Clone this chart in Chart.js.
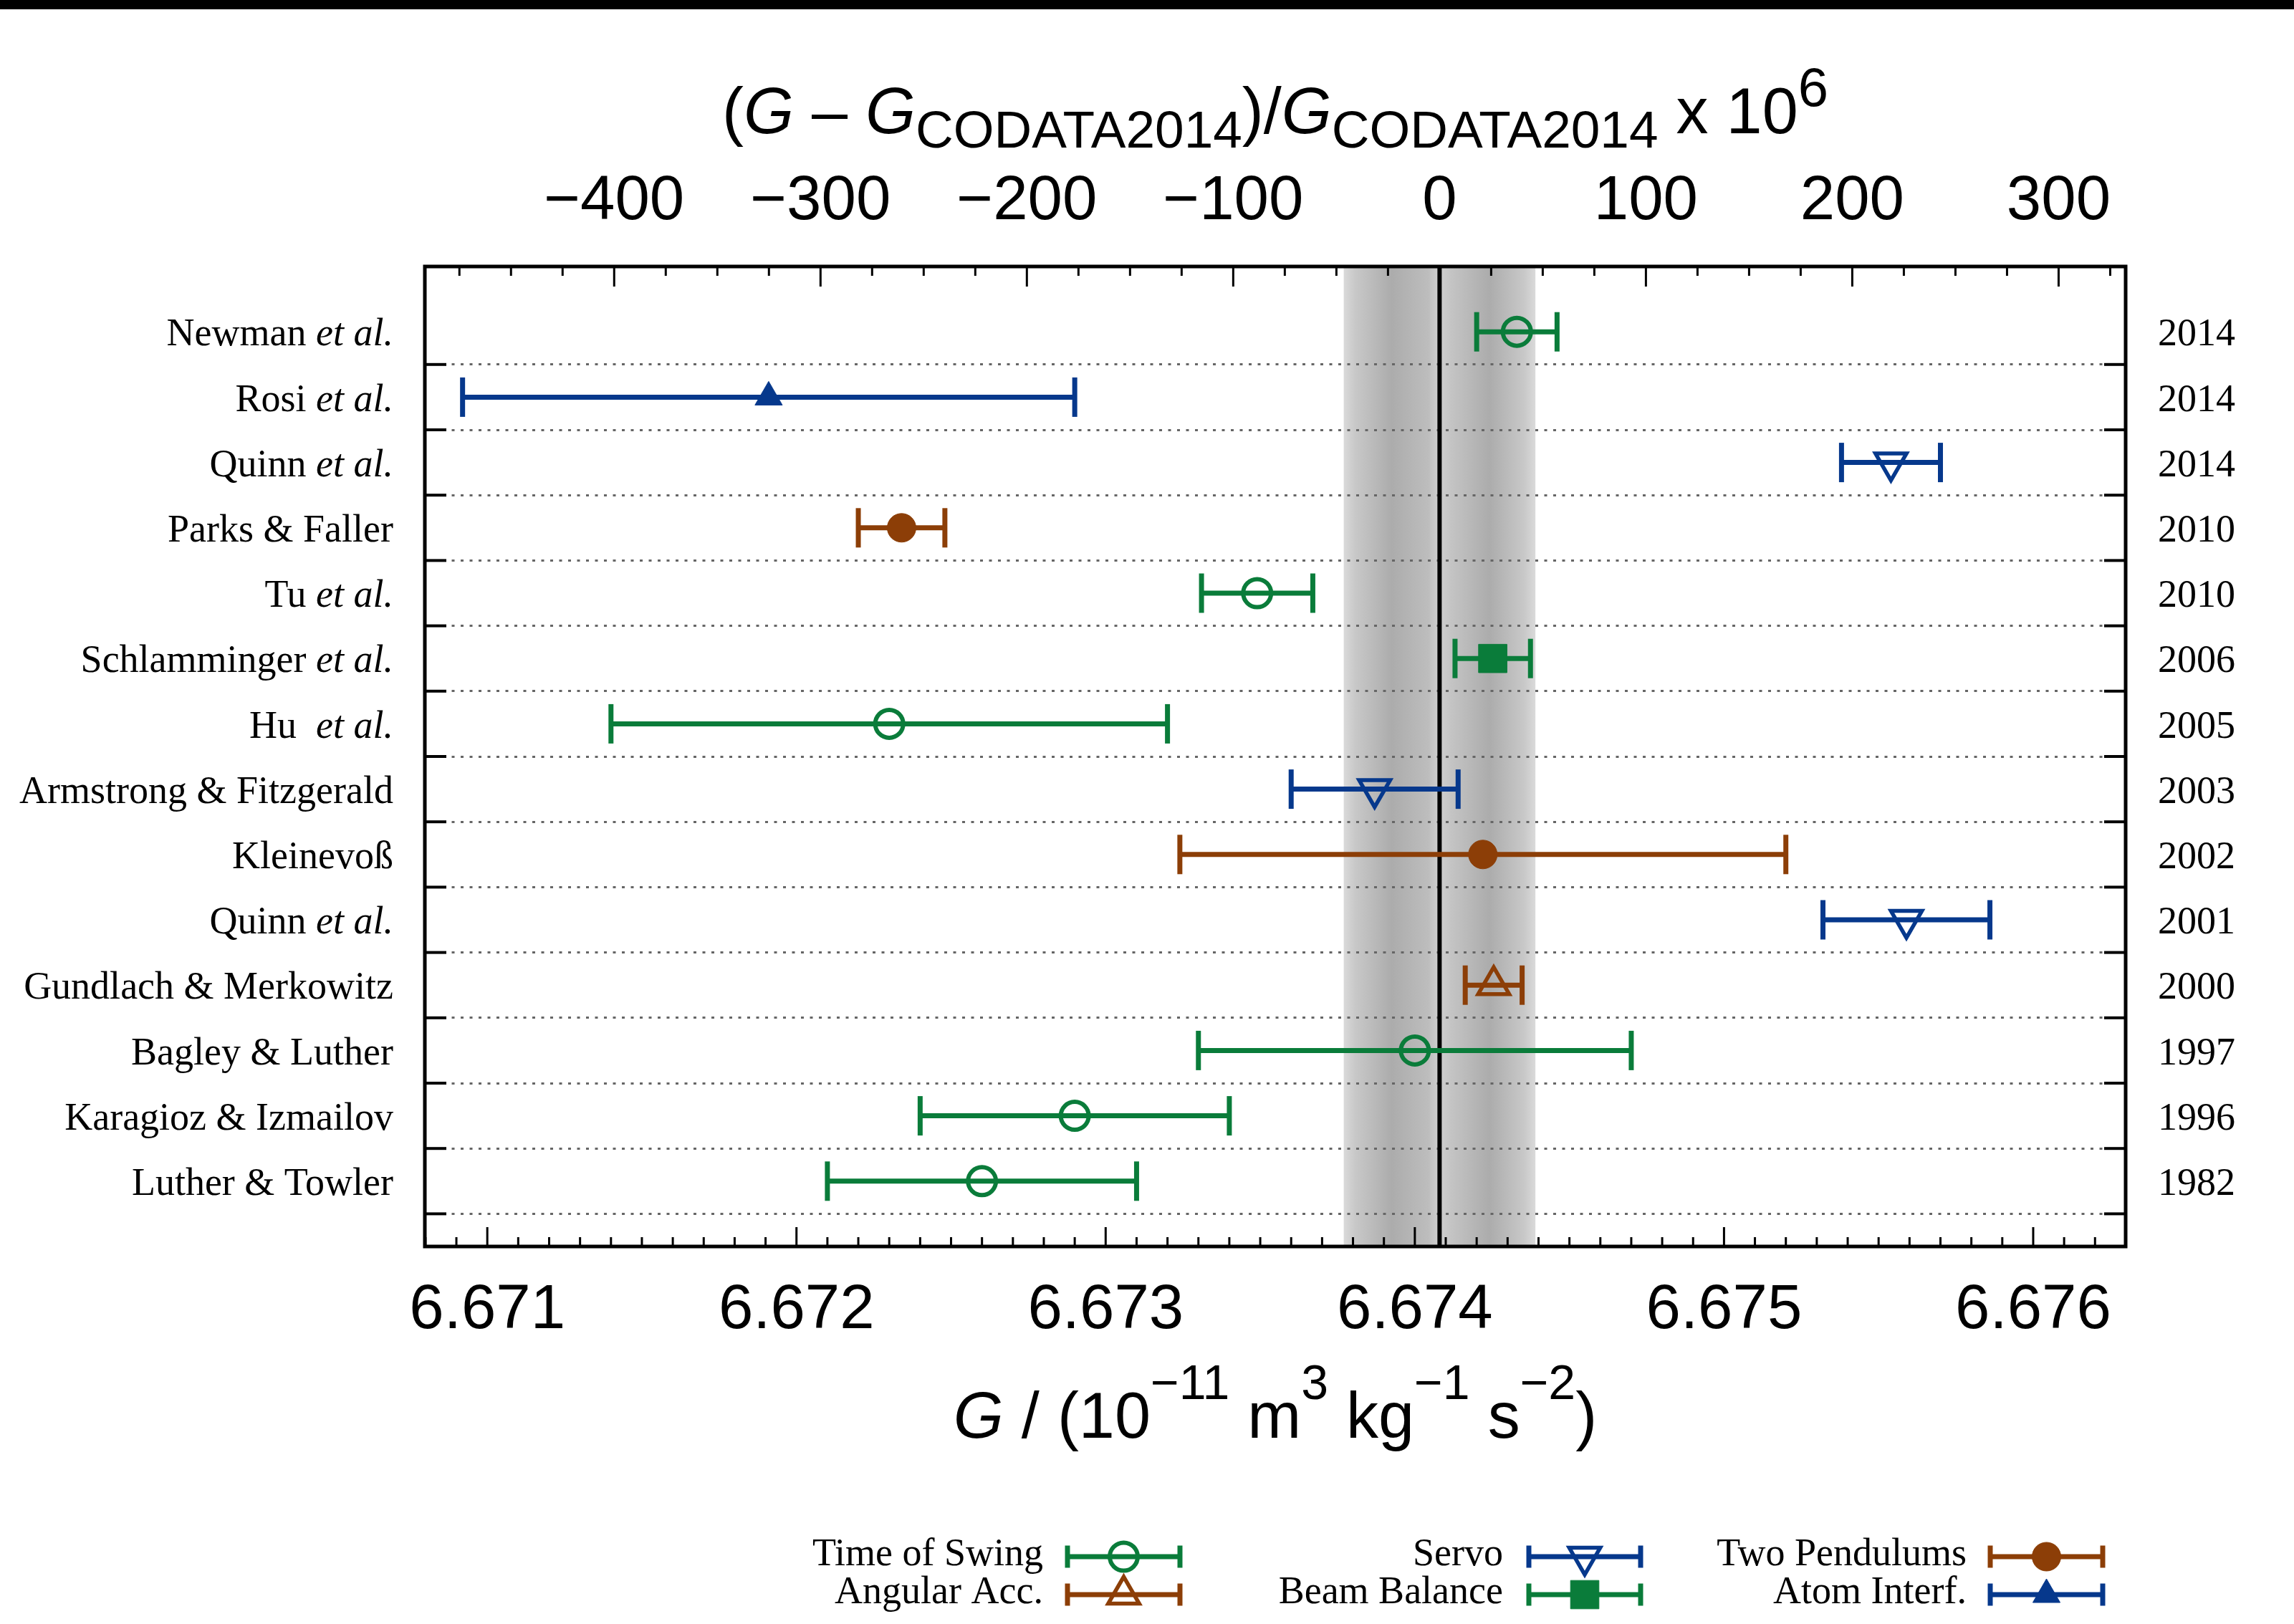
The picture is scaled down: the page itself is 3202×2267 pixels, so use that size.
<!DOCTYPE html>
<html>
<head>
<meta charset="utf-8">
<script src="https://cdn.jsdelivr.net/npm/chart.js@4.4.1/dist/chart.umd.min.js"></script>
<style>
  html, body { margin: 0; padding: 0; background: #fff; }
  #wrap { width: 3202px; height: 2267px; }
</style>
</head>
<body>
<div id="wrap"><canvas id="gChart" width="3202" height="2267"></canvas></div>
<script>
// --- DATA ---
const studyNames = ['Newman et al.', 'Rosi et al.', 'Quinn et al.', 'Parks & Faller', 'Tu et al.',
  'Schlamminger et al.', 'Hu  et al.', 'Armstrong & Fitzgerald', 'Kleinevoß', 'Quinn et al.',
  'Gundlach & Merkowitz', 'Bagley & Luther', 'Karagioz & Izmailov', 'Luther & Towler'];
const studyYears = ['2014', '2014', '2014', '2010', '2010', '2006', '2005', '2003', '2002', '2001',
  '2000', '1997', '1996', '1982'];
const gValues = [6.67433, 6.67191, 6.67554, 6.67234, 6.67349, 6.674252, 6.67230, 6.67387, 6.67422,
  6.67559, 6.674255, 6.67400, 6.67290, 6.67260];
const gErrors = [0.00013, 0.00099, 0.00016, 0.00014, 0.00018, 0.000122, 0.00090, 0.00027, 0.00098,
  0.00027, 0.000092, 0.00070, 0.00050, 0.00050];
const studyMethods = ['Time of Swing', 'Atom Interf.', 'Servo', 'Two Pendulums', 'Time of Swing',
  'Beam Balance', 'Time of Swing', 'Servo', 'Two Pendulums', 'Servo', 'Angular Acc.',
  'Time of Swing', 'Time of Swing', 'Time of Swing'];
const methodNames = ['Time of Swing', 'Angular Acc.', 'Servo', 'Beam Balance', 'Two Pendulums', 'Atom Interf.'];

const gCodata = 6.67408;      // CODATA 2014
const gCodataErr = 0.00031;

const gTickValues = [6.671, 6.672, 6.673, 6.674, 6.675, 6.676];
const gTickLabels = ['6.671', '6.672', '6.673', '6.674', '6.675', '6.676'];
const ppmTickValues = [-400, -300, -200, -100, 0, 100, 200, 300];
const ppmTickLabels = ['\u2212400', '\u2212300', '\u2212200', '\u2212100', '0', '100', '200', '300'];

// axis range
const xMin = 6.670798;
const xMax = 6.676299;
const toPpm = g => (g - gCodata) / gCodata * 1e6;

// --- STYLES ---
const GREEN = '#0a7c3a', BLUE = '#06388c', BROWN = '#8c3e07';
const methodStyles = {
  'Time of Swing': { color: GREEN, pointStyle: 'circle', radius: 19.5, rotation: 0, filled: false, bw: 6 },
  'Angular Acc.':  { color: BROWN, pointStyle: 'triangle', radius: 25, rotation: 0, filled: false, bw: 5.5 },
  'Servo':         { color: BLUE, pointStyle: 'triangle', radius: 25, rotation: 180, filled: false, bw: 5.5 },
  'Beam Balance':  { color: GREEN, pointStyle: 'rect', radius: 28, rotation: 0, filled: true, bw: 1 },
  'Two Pendulums': { color: BROWN, pointStyle: 'circle', radius: 20, rotation: 0, filled: true, bw: 1 },
  'Atom Interf.':  { color: BLUE, pointStyle: 'triangle', radius: 22, rotation: 0, filled: true, bw: 1 }
};
const SANS = "'Liberation Sans', Arial, sans-serif";
const SERIF = "'Liberation Serif', 'Times New Roman', serif";

const datasets = methodNames.map(m => {
  const st = methodStyles[m];
  const pts = [];
  gValues.forEach((g, i) => {
    if (studyMethods[i] === m) pts.push({ x: g, y: i, err: gErrors[i] });
  });
  return {
    label: m,
    data: pts,
    showLine: false,
    borderColor: st.color,
    pointStyle: st.pointStyle,
    pointRadius: st.radius,
    pointRotation: st.rotation,
    pointBorderWidth: st.bw,
    pointBorderColor: st.color,
    pointBackgroundColor: st.filled ? st.color : 'rgba(0,0,0,0)'
  };
});

// --- DRAWING HELPERS ---
function line(ctx, x1, y1, x2, y2) {
  ctx.beginPath(); ctx.moveTo(x1, y1); ctx.lineTo(x2, y2); ctx.stroke();
}

// draws pieces of text with italics / sub / superscripts, centred on cx
function drawRichText(ctx, pieces, cx, baseY) {
  const fontOf = p => `${p.italic ? 'italic ' : ''}${p.size}px ${SANS}`;
  let total = 0;
  pieces.forEach(p => { ctx.font = fontOf(p); p.w = ctx.measureText(p.t).width; total += p.w; });
  let xx = cx - total / 2;
  ctx.textAlign = 'left';
  ctx.textBaseline = 'alphabetic';
  pieces.forEach(p => {
    ctx.font = fontOf(p);
    ctx.fillText(p.t, xx, baseY + (p.dy || 0));
    xx += p.w;
  });
}

const gPlot = {
  id: 'gPlot',
  beforeDraw(chart) {
    const { ctx, chartArea: a, scales: { x } } = chart;
    ctx.save();
    ctx.fillStyle = '#fff';
    ctx.fillRect(0, 0, chart.width, chart.height);
    ctx.fillStyle = '#000';
    ctx.fillRect(0, 0, chart.width, 13);
    // CODATA uncertainty band
    const x0 = x.getPixelForValue(gCodata - gCodataErr);
    const x1 = x.getPixelForValue(gCodata + gCodataErr);
    const grad = ctx.createLinearGradient(x0, 0, x1, 0);
    grad.addColorStop(0, '#dadada');
    grad.addColorStop(0.06, '#c8c8c8');
    grad.addColorStop(0.25, '#acacac');
    grad.addColorStop(0.44, '#bdbdbd');
    grad.addColorStop(0.5, '#cfcfcf');
    grad.addColorStop(0.56, '#c4c4c4');
    grad.addColorStop(0.76, '#acacac');
    grad.addColorStop(0.94, '#c8c8c8');
    grad.addColorStop(1, '#dadada');
    ctx.fillStyle = grad;
    ctx.fillRect(x0, a.top, x1 - x0, a.bottom - a.top);
    ctx.restore();
  },
  beforeDatasetsDraw(chart) {
    const { ctx, chartArea: a, scales: { x, y } } = chart;
    ctx.save();
    ctx.strokeStyle = '#000';
    ctx.lineWidth = 6;
    const xc = x.getPixelForValue(gCodata);
    line(ctx, xc, a.top, xc, a.bottom);
    // error bars
    ctx.lineWidth = 7;
    chart.data.datasets.forEach(ds => {
      ctx.strokeStyle = ds.borderColor;
      ds.data.forEach(p => {
        const xl = x.getPixelForValue(p.x - p.err);
        const xr = x.getPixelForValue(p.x + p.err);
        const py = y.getPixelForValue(p.y);
        line(ctx, xl, py, xr, py);
        line(ctx, xl, py - 27.5, xl, py + 27.5);
        line(ctx, xr, py - 27.5, xr, py + 27.5);
      });
    });
    ctx.restore();
  },
  afterDraw(chart) {
    const { ctx, chartArea: a, scales: { x, x2, y } } = chart;
    ctx.save();
    ctx.strokeStyle = '#000';

    // tick marks (inward)
    ctx.lineWidth = 3;
    for (let v = -475; v <= 325; v += 25) {
      const px = x2.getPixelForValue(v);
      line(ctx, px, a.top, px, a.top + (v % 100 === 0 ? 28 : 13));
    }
    for (let k = 66708; k <= 66762; k++) {
      const px = x.getPixelForValue(k / 10000);
      line(ctx, px, a.bottom, px, a.bottom - (k % 10 === 0 ? 27 : 13));
    }
    ctx.lineWidth = 4;
    studyNames.forEach((_, i) => {
      const py = y.getPixelForValue(i + 0.5);
      line(ctx, a.left, py, a.left + 30, py);
      line(ctx, a.right - 30, py, a.right, py);
    });

    // frame
    ctx.lineWidth = 5;
    ctx.strokeRect(a.left, a.top, a.right - a.left, a.bottom - a.top);

    // study names, "et al." in italics
    ctx.fillStyle = '#000';
    ctx.textBaseline = 'middle';
    ctx.textAlign = 'right';
    const labelRight = a.left - 44;
    studyNames.forEach((name, i) => {
      const py = y.getPixelForValue(i) + 5;
      if (name.endsWith('et al.')) {
        ctx.font = `italic 54px ${SERIF}`;
        const w = ctx.measureText('et al.').width;
        ctx.fillText('et al.', labelRight, py);
        ctx.font = `54px ${SERIF}`;
        ctx.fillText(name.slice(0, -6), labelRight - w, py);
      } else {
        ctx.font = `54px ${SERIF}`;
        ctx.fillText(name, labelRight, py);
      }
    });

    // axis titles
    const cx = (a.left + a.right) / 2;
    drawRichText(ctx, [
      { t: '(', size: 90 }, { t: 'G', size: 90, italic: true }, { t: ' \u2013 ', size: 90 },
      { t: 'G', size: 90, italic: true }, { t: 'CODATA2014', size: 73, dy: 20 },
      { t: ')/', size: 90 }, { t: 'G', size: 90, italic: true }, { t: 'CODATA2014', size: 73, dy: 20 },
      { t: ' x 10', size: 90 }, { t: '6', size: 76, dy: -38 }
    ], cx, 186);
    drawRichText(ctx, [
      { t: 'G', size: 90, italic: true }, { t: ' / (10', size: 90 }, { t: '\u221211', size: 68, dy: -54 },
      { t: ' m', size: 90 }, { t: '3', size: 68, dy: -54 }, { t: ' kg', size: 90 },
      { t: '\u22121', size: 68, dy: -54 }, { t: ' s', size: 90 }, { t: '\u22122', size: 68, dy: -54 },
      { t: ')', size: 90 }
    ], cx, 2007);

    // legend: text, then error-bar sample with marker
    const legRowY = [2173, 2226];
    const legTextRight = [1456, 2098, 2745];
    const legLeft = [1490, 2134, 2778];
    const legRight = [1647, 2290, 2935];
    chart.data.datasets.forEach((ds, i) => {
      const col = Math.floor(i / 2), row = i % 2;
      const st = methodStyles[ds.label];
      const ly = legRowY[row];
      ctx.fillStyle = '#000';
      ctx.font = `54px ${SERIF}`;
      ctx.textAlign = 'right';
      ctx.textBaseline = 'middle';
      ctx.fillText(ds.label, legTextRight[col], ly - 2);
      ctx.strokeStyle = st.color;
      ctx.lineWidth = 7;
      line(ctx, legLeft[col], ly, legRight[col], ly);
      line(ctx, legLeft[col], ly - 15.5, legLeft[col], ly + 15.5);
      line(ctx, legRight[col], ly - 15.5, legRight[col], ly + 15.5);
      ctx.fillStyle = st.filled ? st.color : 'rgba(0,0,0,0)';
      ctx.lineWidth = st.bw;
      Chart.helpers.drawPoint(ctx, {
        pointStyle: st.pointStyle, rotation: st.rotation, radius: st.radius, borderWidth: st.bw
      }, (legLeft[col] + legRight[col]) / 2, ly);
    });
    ctx.restore();
  }
};

new Chart(document.getElementById('gChart'), {
  type: 'scatter',
  data: { datasets: datasets },
  options: {
    responsive: false,
    animation: false,
    devicePixelRatio: 1,
    events: [],
    layout: { padding: 0 },
    plugins: { legend: { display: false }, tooltip: { enabled: false } },
    scales: {
      x: {
        type: 'linear', position: 'bottom', min: xMin, max: xMax,
        afterBuildTicks: s => { s.ticks = gTickValues.map(v => ({ value: v })); },
        afterFit: s => { s.height = 527; s.paddingLeft = 0; s.paddingRight = 0; },
        grid: { display: false, drawTicks: false },
        border: { display: false },
        ticks: {
          padding: 38, color: '#000', maxRotation: 0, autoSkip: false,
          font: { family: SANS, size: 87 },
          callback: (v, i) => gTickLabels[i]
        }
      },
      x2: {
        type: 'linear', position: 'top', min: toPpm(xMin), max: toPpm(xMax),
        afterBuildTicks: s => { s.ticks = ppmTickValues.map(v => ({ value: v })); },
        afterFit: s => { s.height = 372; s.paddingLeft = 0; s.paddingRight = 0; },
        grid: { display: false, drawTicks: false },
        border: { display: false },
        ticks: {
          padding: 38, color: '#000', maxRotation: 0, autoSkip: false,
          font: { family: SANS, size: 87 },
          callback: (v, i) => ppmTickLabels[i]
        }
      },
      y: {
        type: 'linear', position: 'left', reverse: true, min: -1, max: studyNames.length,
        afterBuildTicks: s => { s.ticks = studyNames.map((_, i) => ({ value: i + 0.5 })); },
        afterFit: s => { s.width = 593; },
        ticks: { display: false },
        grid: { color: '#666', lineWidth: 3, drawTicks: false },
        border: { display: false, dash: [4, 8.5] }
      },
      y2: {
        type: 'linear', position: 'right', reverse: true, min: -1, max: studyNames.length,
        afterBuildTicks: s => { s.ticks = studyYears.map((_, i) => ({ value: i })); },
        afterFit: s => { s.width = 235; },
        grid: { display: false, drawTicks: false },
        border: { display: false },
        ticks: {
          padding: 45, color: '#000', autoSkip: false, labelOffset: 5,
          font: { family: SERIF, size: 54 },
          callback: (v, i) => studyYears[i]
        }
      }
    }
  },
  plugins: [gPlot]
});
</script>
</body>
</html>
